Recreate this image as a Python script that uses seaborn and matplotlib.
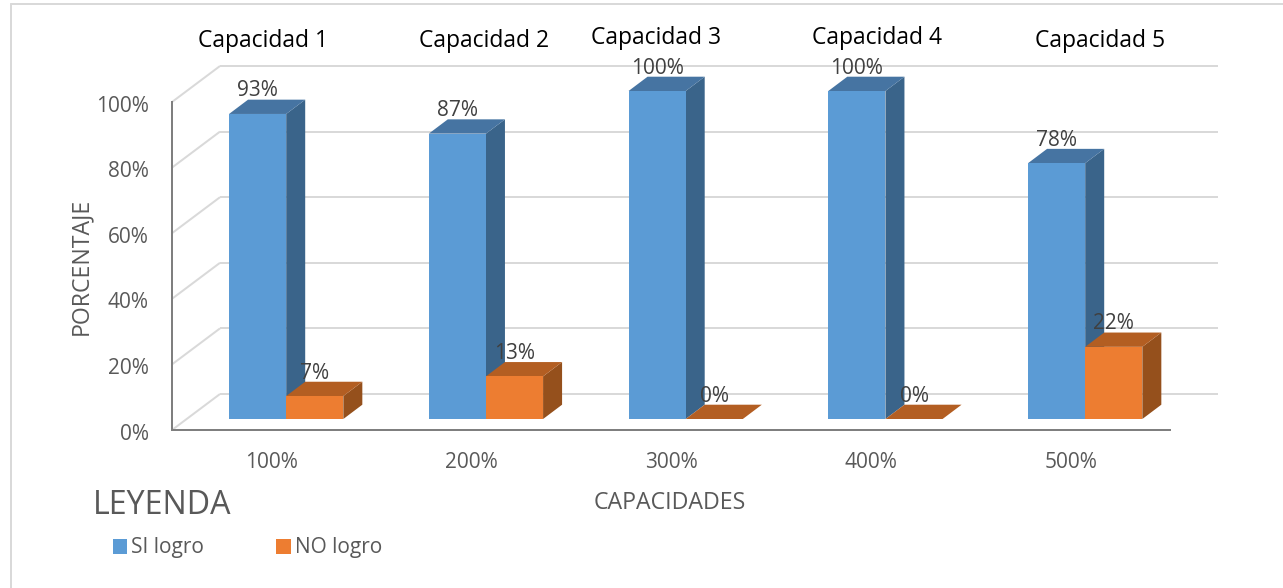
import matplotlib
matplotlib.use("Agg")
import matplotlib.pyplot as plt
from matplotlib.lines import Line2D
from matplotlib.patches import Polygon
from matplotlib.transforms import ScaledTranslation
import pandas as pd
import seaborn as sns

# ---- data ----
tick_categories = ["100%", "200%", "300%", "400%", "500%"]
capacity_names = ["Capacidad 1", "Capacidad 2", "Capacidad 3", "Capacidad 4", "Capacidad 5"]
si_logro = [93, 87, 100, 100, 78]
no_logro = [7, 13, 0, 0, 22]
y_ticks = [0, 20, 40, 60, 80, 100]

# ---- style ----
W, H = 1283, 588
sns.set_theme(style="white")
plt.rcParams["font.family"] = ["Open Sans", "DejaVu Sans"]
BLUE, ORANGE = "#5B9BD5", "#ED7D31"
SHADES = {0: ("#3A648A", "#4674A2"), 1: ("#95501C", "#B35E22")}
GRID, AXIS, TICK, LABEL = "#D9D9D9", "#7F7F7F", "#595959", "#404040"
PX = 0.72  # points per pixel at dpi 100

fig = plt.figure(figsize=(W / 100, H / 100), dpi=100, facecolor="white")
# axes rectangle = front plane of the pseudo-3D chart (pixel box)
L, R, T, B = 172, 1170, 102, 430
ax = fig.add_axes([L / W, 1 - B / H, (R - L) / W, (B - T) / H])

df = pd.DataFrame({
    "cat": tick_categories * 2,
    "serie": ["SI logro"] * len(si_logro) + ["NO logro"] * len(no_logro),
    "valor": si_logro + no_logro,
})

px_x = 199.75               # pixels per category
px_y = (B - T) / 100.0      # pixels per percent
lift = 11 / px_y            # bars stand a bit behind the front plane
first_center = 286.2

sns.barplot(data=df, x="cat", y="valor", hue="serie", order=tick_categories,
            hue_order=["SI logro", "NO logro"], palette=[BLUE, ORANGE],
            width=0.572, gap=0, errorbar=None, linewidth=0,
            saturation=1, ax=ax)
handles, labels = ax.get_legend_handles_labels()
if ax.get_legend() is not None:
    ax.get_legend().remove()

ax.set_xlim((L - first_center) / px_x, (R - first_center) / px_x)
ax.set_ylim(0, 100)
ax.set_facecolor("none")
ax.set_yticks(y_ticks)
ax.set_yticklabels([f"{v}%" for v in y_ticks])
ax.tick_params(axis="y", length=0, pad=23 * PX, labelsize=15, labelcolor=TICK)
ax.tick_params(axis="x", length=0, pad=22 * PX, labelsize=15, labelcolor=TICK)
shift = ScaledTranslation(-14.5 / 100, 0, fig.dpi_scale_trans)
for t in ax.get_xticklabels():
    t.set_transform(t.get_transform() + shift)
down = ScaledTranslation(0, -1.5 / 100, fig.dpi_scale_trans)
for t in ax.get_yticklabels():
    t.set_transform(t.get_transform() + down)

for name in ("top", "right"):
    ax.spines[name].set_visible(False)
for name in ("left", "bottom"):
    ax.spines[name].set_color(AXIS)
    ax.spines[name].set_linewidth(2 * PX)
    ax.spines[name].set_zorder(1.5)

# walls: gridlines on the back plane and diagonals on the side wall
wall_dx, wall_dy = 48 / px_x, 36 / px_y
x0, x1 = ax.get_xlim()
for v in y_ticks:
    ax.plot([x0 + wall_dx, x1 + wall_dx], [v + wall_dy] * 2, color=GRID, lw=2 * PX,
            clip_on=False, zorder=1, solid_capstyle="butt")
    ax.plot([x0, x0 + wall_dx], [v, v + wall_dy], color=GRID, lw=2 * PX,
            clip_on=False, zorder=1, solid_capstyle="butt")

# 3D faces derived from each drawn bar
dx, dy = 19 / px_x, 14.3 / px_y
for s, container in enumerate(ax.containers):
    side_c, top_c = SHADES[s]
    for bar in container:
        bar.set_y(lift)
        bar.set_clip_on(False)
        x, y, w, h = bar.get_x(), bar.get_y(), bar.get_width(), bar.get_height()
        bar.set_zorder(3 + 2 * s)
        ax.add_patch(Polygon([(x + w, y), (x + w + dx, y + dy), (x + w + dx, y + h + dy), (x + w, y + h)],
                             closed=True, fc=side_c, ec="none", zorder=2 + 2 * s, clip_on=False))
        ax.add_patch(Polygon([(x, y + h), (x + dx, y + h + dy), (x + w + dx, y + h + dy), (x + w, y + h)],
                             closed=True, fc=top_c, ec="none", zorder=2.5 + 2 * s, clip_on=False))
        ax.annotate(f"{h:.0f}%", xy=(x + w / 2, y + h), xytext=(0, 23 * PX),
                    textcoords="offset points", ha="center", va="center",
                    fontsize=15, color=LABEL, zorder=8, annotation_clip=False)

# capacity headings
heading_px = [(263, 41), (484, 41), (656, 38), (877, 38), (1100, 41)]
for name, (px, py) in zip(capacity_names, heading_px):
    fig.text(px / W, 1 - py / H, name, ha="center", va="center", fontsize=16.5, color="black")

# axis titles
ax.set_xlabel("CAPACIDADES", fontsize=16.7, color=TICK)
ax.xaxis.set_label_coords((670 - L) / (R - L), (B - 503) / (B - T), transform=ax.transAxes)
ax.xaxis.label.set_va("center")
ax.set_ylabel("PORCENTAJE", fontsize=16.7, color=TICK)
ax.yaxis.set_label_coords((81 - L) / (R - L), (B - 266) / (B - T), transform=ax.transAxes)
ax.yaxis.label.set_va("center")

# legend
fig.text(93 / W, 1 - 506 / H, "LEYENDA", ha="left", va="center", fontsize=23.2, color=TICK)
fig.legend(handles, labels, loc="center left", bbox_to_anchor=(96 / W, 1 - 548 / H),
           ncol=2, frameon=False, fontsize=15, labelcolor=TICK, handlelength=0.7,
           handleheight=0.7, handletextpad=0.2, columnspacing=3.45, borderpad=0.3)

# outer frame
for xs, ys in (([11, 11], [4, H]), ([11, W], [4, 4])):
    fig.add_artist(Line2D([a / W for a in xs], [1 - b / H for b in ys], color=GRID, lw=2 * PX))

fig.savefig("out.png", dpi=100, facecolor="white")
